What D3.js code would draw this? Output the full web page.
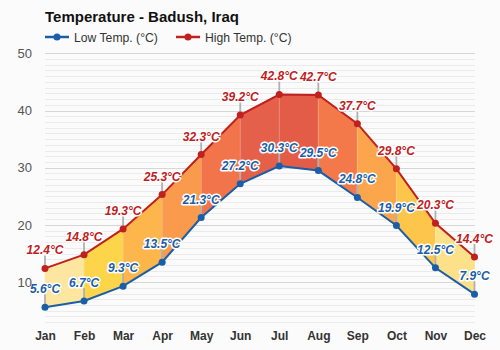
<!DOCTYPE html>
<html><head><meta charset="utf-8">
<script src="https://cdn.jsdelivr.net/npm/d3@7"></script>
<style>
html,body{margin:0;padding:0;background:#fbfbfb;}
svg{display:block;font-family:"Liberation Sans",Arial,sans-serif;}
</style></head>
<body><div id="chart"></div>
<script>
const months = ["Jan","Feb","Mar","Apr","May","Jun","Jul","Aug","Sep","Oct","Nov","Dec"];
const highTemps = [12.4,14.8,19.3,25.3,32.3,39.2,42.8,42.7,37.7,29.8,20.3,14.4];
const lowTemps = [5.6,6.7,9.3,13.5,21.3,27.2,30.3,29.5,24.8,19.9,12.5,7.9];
const segmentColors = ["#fde7a0","#fdd54a","#fcb64c","#f99a4c","#f2744a","#e4604a","#e25c48","#f4794a","#fba64c","#fdc64b","#fde18a"];
const yTicks = [10,20,30,40,50];
const title = "Temperature - Badush, Iraq";
const legendLabels = ["Low Temp. (°C)","High Temp. (°C)"];
const lowColor = "#1a5ea8", highColor = "#c0201e";

const W=500,H=350;
const svg=d3.select("#chart").append("svg").attr("width",W).attr("height",H);
svg.append("rect").attr("width",W).attr("height",H).attr("fill","#fbfbfb");

const x=d3.scalePoint().domain(months).range([45,474.5]).padding(0);
const y=d3.scaleLinear().domain([3,50]).range([322.2,53.3]);

// grid
const grid=svg.append("g");
d3.range(3,51).forEach(v=>{
  const major=v%10===0;
  grid.append("line").attr("x1",45).attr("x2",475)
    .attr("y1",Math.round(y(v))+0.5).attr("y2",Math.round(y(v))+0.5)
    .attr("stroke",major?"#d6d6d6":"#ebebeb").attr("stroke-width",1);
});

// segment fills
const fills=svg.append("g");
for(let i=0;i<months.length-1;i++){
  const pts=[[x(months[i]),y(highTemps[i])],[x(months[i+1]),y(highTemps[i+1])],
             [x(months[i+1]),y(lowTemps[i+1])],[x(months[i]),y(lowTemps[i])]];
  fills.append("path").attr("d",d3.line()(pts)+"Z").attr("fill",segmentColors[i])
    .attr("stroke",segmentColors[i]).attr("stroke-width",0.6);
}
// faint month dividers
for(let i=1;i<months.length-1;i++){
  fills.append("line").attr("x1",x(months[i])).attr("x2",x(months[i]))
    .attr("y1",y(highTemps[i])).attr("y2",y(lowTemps[i]))
    .attr("stroke","#ffffff").attr("stroke-opacity",0.25).attr("stroke-width",1);
}

// connectors
const conn=svg.append("g");
[highTemps,lowTemps].forEach(arr=>{
  arr.forEach((v,i)=>{
    conn.append("line").attr("x1",x(months[i])).attr("x2",x(months[i]))
      .attr("y1",y(v)).attr("y2",y(v)-13)
      .attr("stroke","#b0b0b0").attr("stroke-width",1.8);
  });
});

// lines and points
function series(arr,color){
  const g=svg.append("g");
  g.append("path").datum(arr).attr("fill","none").attr("stroke",color).attr("stroke-width",2)
    .attr("d",d3.line().x((d,i)=>x(months[i])).y(d=>y(d)));
  g.selectAll("circle").data(arr).join("circle")
    .attr("cx",(d,i)=>x(months[i])).attr("cy",d=>y(d)).attr("r",3.5).attr("fill",color);
}
series(lowTemps,lowColor);
series(highTemps,highColor);

// value labels
function labels(arr,color){
  svg.append("g").selectAll("text").data(arr).join("text")
    .attr("x",(d,i)=>x(months[i])).attr("y",d=>y(d)-14)
    .attr("text-anchor","middle").attr("font-size",12).attr("font-weight","bold").attr("font-style","italic")
    .attr("fill",color).attr("stroke","#ffffff").attr("stroke-width",3).attr("stroke-linejoin","round")
    .attr("paint-order","stroke").text(d=>d.toFixed(1)+"°C");
}
labels(highTemps,highColor);
labels(lowTemps,lowColor);

// axes
const ya=svg.append("g").attr("transform","translate(45,0)")
  .call(d3.axisLeft(y).tickValues(yTicks).tickSize(0).tickPadding(13));
ya.select(".domain").remove();
ya.selectAll("text").attr("font-size",13).attr("fill","#555").attr("font-family","Liberation Sans,Arial,sans-serif");

const xa=svg.append("g").attr("transform","translate(0,322.2)")
  .call(d3.axisBottom(x).tickSize(0).tickPadding(9));
xa.select(".domain").remove();
xa.selectAll("text").attr("font-size",12).attr("font-weight","bold").attr("fill","#333").attr("font-family","Liberation Sans,Arial,sans-serif");

// title
svg.append("text").attr("x",45).attr("y",22).attr("font-size",15).attr("font-weight","bold")
  .attr("fill","#111").text(title);

// legend
const leg=[{x:45,label:legendLabels[0],color:lowColor},{x:176,label:legendLabels[1],color:highColor}];
leg.forEach(l=>{
  const g=svg.append("g");
  g.append("line").attr("x1",l.x).attr("x2",l.x+24).attr("y1",37).attr("y2",37).attr("stroke",l.color).attr("stroke-width",2.5);
  g.append("circle").attr("cx",l.x+12).attr("cy",37).attr("r",3.5).attr("fill",l.color);
  g.append("text").attr("x",l.x+29).attr("y",41.5).attr("font-size",12.2).attr("fill","#333").text(l.label);
});
</script></body></html>
